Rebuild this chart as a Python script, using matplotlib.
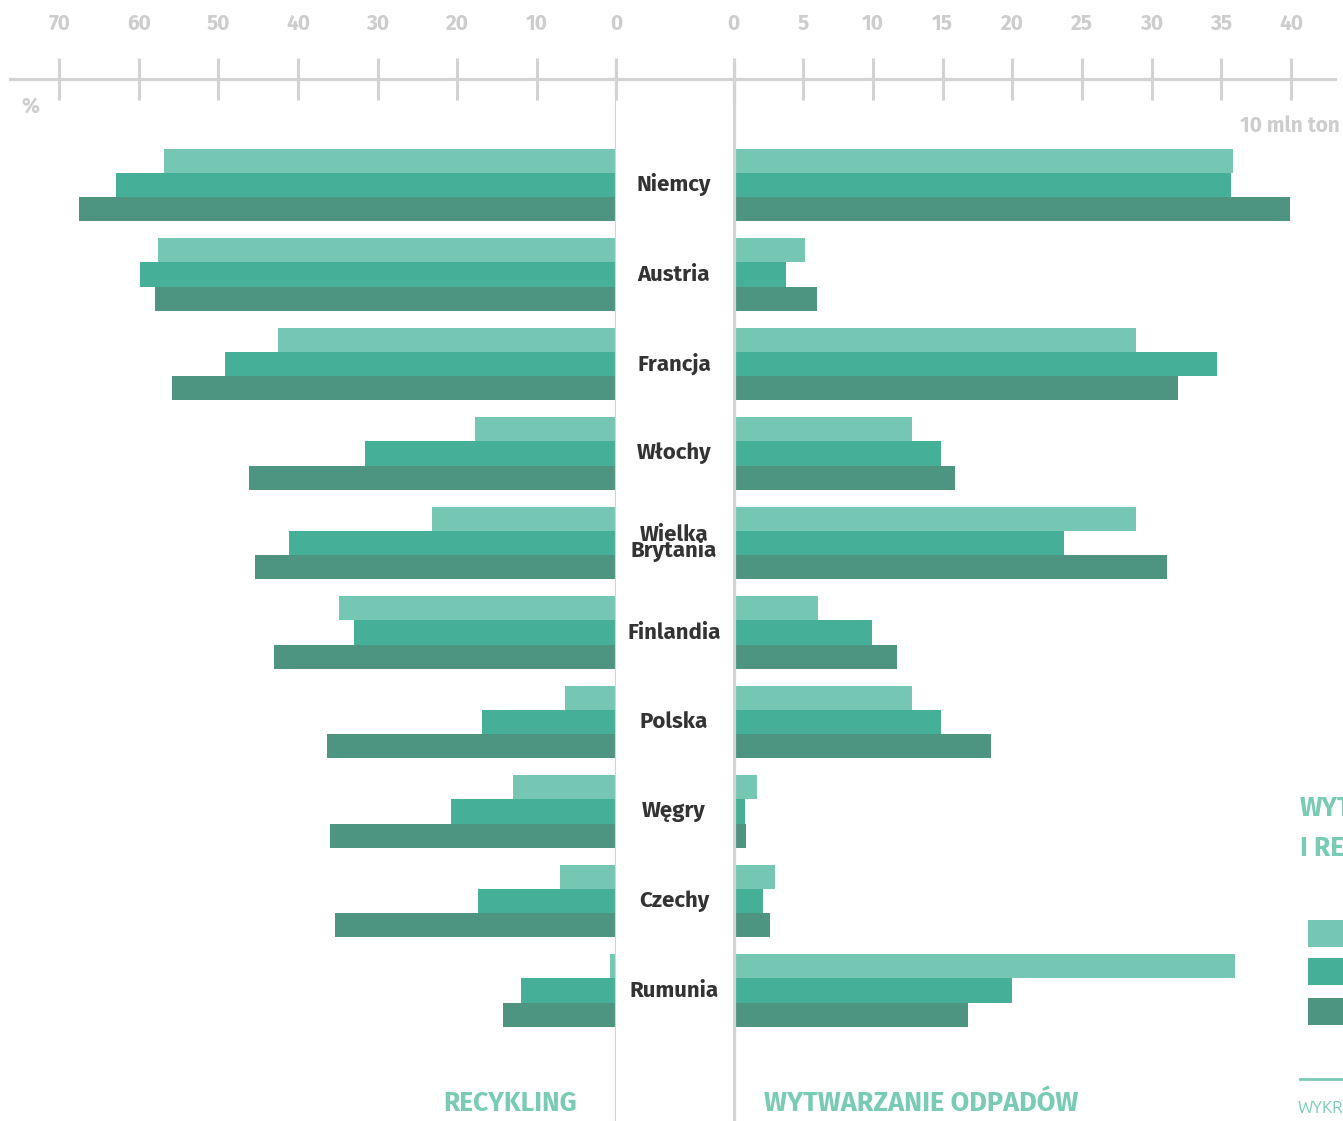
import matplotlib
matplotlib.use('Agg')
import matplotlib.pyplot as plt
import matplotlib.transforms as mtransforms
from matplotlib import font_manager as fm
from matplotlib.patches import Rectangle
from matplotlib.lines import Line2D

# ---------------- data ----------------
countries = ['Niemcy', 'Austria', 'Francja', 'Włochy', 'Wielka\nBrytania',
             'Finlandia', 'Polska', 'Węgry', 'Czechy', 'Rumunia']
# recycling rate, %  (three periods: light, medium, dark)
recycling_1 = [56.9, 57.6, 42.5, 17.7, 23.2, 34.9, 6.4, 13.0, 7.0, 0.7]
recycling_2 = [62.9, 59.9, 49.2, 31.6, 41.1, 32.9, 16.8, 20.7, 17.4, 11.9]
recycling_3 = [67.6, 58.0, 55.9, 46.2, 45.4, 43.0, 36.3, 36.0, 35.3, 14.2]
# waste generation, 10 mln ton
waste_1 = [35.8, 5.1, 28.9, 12.8, 28.9, 6.05, 12.8, 1.7, 3.0, 36.0]
waste_2 = [35.7, 3.8, 34.7, 14.9, 23.7, 9.9, 14.9, 0.8, 2.1, 20.0]
waste_3 = [39.9, 6.0, 31.9, 15.9, 31.1, 11.7, 18.5, 0.9, 2.6, 16.8]
recycling_ticks = [70, 60, 50, 40, 30, 20, 10, 0]
waste_ticks = [0, 5, 10, 15, 20, 25, 30, 35, 40]


# ---------------- fonts ----------------
def _w(v):
    if isinstance(v, (int, float)):
        return v
    return fm.weight_dict.get(str(v), 400)


def pick_family(prefs, min_weight):
    for fam in prefs:
        ws = [_w(f.weight) for f in fm.fontManager.ttflist if f.name == fam]
        if ws and max(ws) >= min_weight:
            return fam
    return 'DejaVu Sans'


BOLDFONT = pick_family(['Ubuntu', 'Fira Sans', 'Open Sans'], 650)
REGFONT = pick_family(['Ubuntu', 'Fira Sans', 'Open Sans'], 400)

# ---------------- style ----------------
LIGHT, MID, DARK = '#75C7B4', '#45B097', '#4D9481'
GRID = '#D3D3D3'
TICKTXT = '#CDCDCD'
TEAL_TXT = '#7ACBB5'
LABEL = '#333333'

W, H = 1343, 1121
DPI = 100
fig = plt.figure(figsize=(W / DPI, H / DPI), dpi=DPI)
fig.patch.set_facecolor('white')

ROW_PX = 89.5       # pixel distance between country groups
ROW0_PX = 185.0     # pixel row of first group centre
BAR_H = 24.3 / ROW_PX


def prow(py):
    """pixel row -> category coordinate"""
    return (py - ROW0_PX) / ROW_PX


ylim = (prow(H), prow(0))

# left axes: recycling (0 at x=616 px, 7.95 px per %)
L0, LS = 616.0, 7.95
axL = fig.add_axes([10 / W, 0, (L0 - 10) / W, 1])
axL.set_xlim((L0 - 10) / LS, 0)
# right axes: waste (0 at x=733.5 px, 13.94 px per unit)
R0, RS = 733.5, 13.94
axR = fig.add_axes([L0 / W, 0, (1335 - L0) / W, 1])
axR.set_xlim((L0 - R0) / RS, (1335 - R0) / RS)

pos = list(range(len(countries)))
for ax, series in ((axL, (recycling_1, recycling_2, recycling_3)),
                   (axR, (waste_1, waste_2, waste_3))):
    ax.set_facecolor('none')
    ax.set_ylim(*ylim)
    for k, (vals, col) in enumerate(zip(series, (LIGHT, MID, DARK))):
        ax.barh([p + (k - 1) * BAR_H for p in pos], vals, height=BAR_H,
                color=col, edgecolor='none', zorder=2)
    for s in ('left', 'right', 'bottom'):
        ax.spines[s].set_visible(False)
    ax.spines['top'].set_position(('data', prow(79)))
    ax.spines['top'].set_color(GRID)
    ax.spines['top'].set_linewidth(2.3)
    ax.xaxis.tick_top()
    ax.set_yticks([])
    ax.tick_params(axis='x', direction='inout', length=30.2, width=2.2,
                   color=GRID, pad=17, labelsize=15, labelcolor=TICKTXT)

axL.set_xticks(recycling_ticks)
axR.set_xticks(waste_ticks)
for ax in (axL, axR):
    for t in ax.get_xticklabels():
        t.set_fontweight('bold')
        t.set_family(BOLDFONT)

# central vertical lines
axL.vlines(0, prow(58), prow(H), color=GRID, lw=2.3, zorder=3)
axR.vlines(0, prow(62), prow(H), color=GRID, lw=2.3, zorder=3)

# country labels between the two panels
trans = mtransforms.blended_transform_factory(fig.transFigure, axR.transData)
for p, name in zip(pos, countries):
    axR.text(674 / W, p, name, transform=trans, ha='center', va='center',
             fontsize=16, fontweight='bold', color=LABEL, family=BOLDFONT,
             linespacing=0.68, zorder=4)

# unit labels
fig.text(30 / W, 1 - 107 / H, '%', ha='center', va='center', fontsize=15,
         fontweight='bold', color=TICKTXT, family=BOLDFONT)
fig.text(1340 / W, 1 - 126 / H, '10 mln ton', ha='right', va='center',
         fontsize=15, fontweight='bold', color=TICKTXT, family=BOLDFONT)

# panel titles
fig.text(577 / W, 1 - 1103 / H, 'RECYKLING', ha='right', va='center',
         fontsize=19, fontweight='bold', color=TEAL_TXT, family=BOLDFONT)
fig.text(764 / W, 1 - 1103 / H, 'WYTWARZANIE ODPADÓW', ha='left', va='center',
         fontsize=19.5, fontweight='bold', color=TEAL_TXT, family=BOLDFONT)

# legend block (cut by the right edge, as in the original)
fig.text(1300 / W, 1 - 808 / H, 'WYTWARZANIE', ha='left', va='center',
         fontsize=19, fontweight='bold', color=TEAL_TXT, family=BOLDFONT)
fig.text(1300 / W, 1 - 848 / H, 'I RECYKLING', ha='left', va='center',
         fontsize=19, fontweight='bold', color=TEAL_TXT, family=BOLDFONT)
for top, col in ((920, LIGHT), (958, MID), (998, DARK)):
    fig.add_artist(Rectangle((1308 / W, 1 - (top + 27) / H), 60 / W, 27 / H,
                             transform=fig.transFigure, color=col, lw=0))
fig.add_artist(Line2D([1300 / W, 1], [1 - 1079 / H, 1 - 1079 / H],
                      transform=fig.transFigure, color=TEAL_TXT, lw=2))
fig.text(1297 / W, 1 - 1108 / H, 'WYKRES', ha='left', va='center',
         fontsize=12, color=TEAL_TXT, family=REGFONT)

fig.savefig('out.png', dpi=DPI, facecolor='white')
